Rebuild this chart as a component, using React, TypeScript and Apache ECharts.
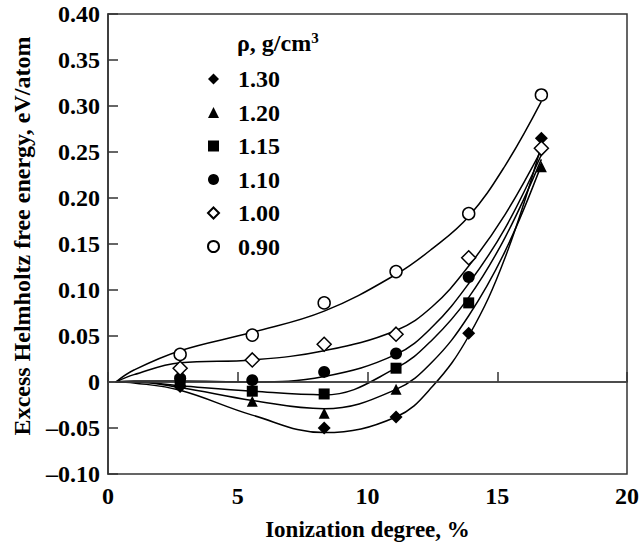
import React, { useEffect, useRef } from "react";
import * as echarts from "echarts";

// Marker data: ionization degree (%) and excess Helmholtz free energy (eV/atom)
const xPoints = [2.78, 5.56, 8.33, 11.1, 13.9, 16.7];
const rho130 = [-0.005, null, -0.050, -0.038, 0.053, 0.265];
const rho120 = [-0.001, -0.021, -0.034, -0.008, null, 0.234];
const rho115 = [0.001, -0.010, -0.013, 0.015, 0.086, null];
const rho110 = [0.004, 0.002, 0.011, 0.031, 0.114, null];
const rho100 = [0.015, 0.024, 0.041, 0.052, 0.135, 0.254];
const rho090 = [0.030, 0.051, 0.086, 0.120, 0.183, 0.312];

// Fitted curves
const xCurve = [0.3, 1, 2.78, 5.56, 8.33, 11.1, 12.5, 13.9, 15.3, 16.7];
const curve130 = [0, -0.001, -0.009, -0.036, -0.055, -0.038, -0.005, 0.05, 0.135, 0.257];
const curve120 = [0, 0, -0.006, -0.020, -0.029, -0.008, 0.022, 0.072, 0.142, 0.236];
const curve115 = [0, 0, -0.004, -0.010, -0.014, 0.015, 0.046, 0.092, 0.157, 0.242];
const curve110 = [0, 0.001, 0.001, 0.0, 0.006, 0.03, 0.06, 0.107, 0.167, 0.247];
const curve100 = [0, 0.008, 0.021, 0.024, 0.034, 0.056, 0.082, 0.126, 0.182, 0.252];
const curve090 = [0, 0.013, 0.034, 0.054, 0.077, 0.117, 0.145, 0.18, 0.235, 0.305];

const seriesNames = ["1.30", "1.20", "1.15", "1.10", "1.00", "0.90"];
const xTicks = [0, 5, 10, 15, 20];
const yTicks = [-0.1, -0.05, 0, 0.05, 0.1, 0.15, 0.2, 0.25, 0.3, 0.35, 0.4];

const FONT = "'Liberation Serif', 'Times New Roman', Times, serif";

function pair(xs: number[], ys: (number | null)[]) {
  return xs.map((x, i) => [x, ys[i]]).filter((p) => p[1] !== null);
}

export default function App() {
  const ref = useRef<HTMLDivElement>(null);
  useEffect(() => {
    if (!ref.current) return;
    const chart = echarts.init(ref.current, undefined, { renderer: "svg" });
    const markerDefs = [
      { data: rho130, symbol: "diamond", size: 13, fill: "#000" },
      { data: rho120, symbol: "triangle", size: 11, fill: "#000" },
      { data: rho115, symbol: "rect", size: 11, fill: "#000" },
      { data: rho110, symbol: "circle", size: 12, fill: "#000" },
      { data: rho100, symbol: "diamond", size: 14, fill: "#fff" },
      { data: rho090, symbol: "circle", size: 12, fill: "#fff" },
    ];
    const curves = [curve130, curve120, curve115, curve110, curve100, curve090];
    const series: any[] = [];
    curves.forEach((c, i) => {
      series.push({
        type: "line",
        name: "curve" + seriesNames[i],
        data: pair(xCurve, c),
        smooth: 0.4,
        showSymbol: false,
        symbol: "none",
        lineStyle: { color: "#000", width: 1.5 },
        z: 2,
        silent: true,
      });
    });
    series.push({
      type: "line",
      name: "zero",
      data: [],
      markLine: {
        silent: true,
        symbol: "none",
        label: { show: false },
        lineStyle: { color: "#444", width: 1.5, type: "solid" },
        data: [{ yAxis: 0 }],
      },
    });
    markerDefs.forEach((m, i) => {
      series.push({
        type: "scatter",
        name: seriesNames[i],
        data: pair(xPoints, m.data),
        symbol: m.symbol,
        symbolSize: m.size,
        itemStyle: {
          color: m.fill,
          borderColor: "#000",
          borderWidth: m.fill === "#fff" ? 1.5 : 0,
          opacity: 1,
        },
        z: 5,
      });
    });

    chart.setOption({
      animation: false,
      grid: {
        left: 108,
        top: 14,
        right: 15,
        bottom: 64,
        show: true,
        borderColor: "#333",
        borderWidth: 1.5,
        backgroundColor: "transparent",
      },
      legend: {
        data: seriesNames,
        orient: "vertical",
        left: 207,
        top: 67,
        padding: 0,
        itemGap: 9.5,
        itemWidth: 11,
        itemHeight: 11,
        selectedMode: false,
        textStyle: {
          fontFamily: FONT,
          fontSize: 24,
          fontWeight: "bold",
          color: "#000",
          lineHeight: 22,
          padding: [0, 0, 0, 14],
        },
      },
      graphic: [
        {
          type: "text",
          left: 237,
          top: 30,
          style: {
            text: "{a|ρ, g/cm}{b|3}",
            rich: {
              a: { fontFamily: FONT, fontSize: 24, fontWeight: "bold", fill: "#000", lineHeight: 26 },
              b: { fontFamily: FONT, fontSize: 15, fontWeight: "bold", fill: "#000", verticalAlign: "top", lineHeight: 26 },
            },
          },
        },
        {
          type: "text",
          x: 22,
          y: 236,
          rotation: Math.PI / 2,
          style: {
            text: "Excess Helmholtz free energy, eV/atom",
            fontFamily: FONT,
            fontSize: 24,
            fontWeight: "bold",
            fill: "#000",
            align: "center",
            verticalAlign: "middle",
          },
        },
      ],
      xAxis: {
        type: "value",
        min: xTicks[0],
        max: xTicks[xTicks.length - 1],
        interval: 5,
        name: "Ionization degree, %",
        nameLocation: "middle",
        nameGap: 44,
        nameTextStyle: { fontFamily: FONT, fontSize: 23, fontWeight: "bold", color: "#000" },
        axisLine: { show: true, lineStyle: { color: "#333", width: 1.5 } },
        axisTick: { show: true, inside: true, length: 10, lineStyle: { color: "#333", width: 1.5 } },
        axisLabel: { fontFamily: FONT, fontSize: 24, fontWeight: "bold", color: "#000", margin: 10 },
        splitLine: { show: false },
      },
      yAxis: {
        type: "value",
        min: yTicks[0],
        max: yTicks[yTicks.length - 1],
        interval: 0.05,
        axisLine: { show: true, lineStyle: { color: "#333", width: 1.5 } },
        axisTick: { show: true, inside: true, length: 10, lineStyle: { color: "#333", width: 1.5 } },
        axisLabel: {
          fontFamily: FONT,
          fontSize: 24,
          fontWeight: "bold",
          color: "#000",
          margin: 8,
          formatter: (v: number) => {
            if (Math.abs(v) < 1e-9) return "0";
            const s = Math.abs(v).toFixed(2);
            return v < 0 ? "\u2013" + s : s;
          },
        },
        splitLine: { show: false },
      },
      series,
    });
    return () => chart.dispose();
  }, []);
  return (
    <div
      ref={ref}
      style={{ position: "absolute", left: 0, top: 0, width: 642, height: 546 }}
    />
  );
}
